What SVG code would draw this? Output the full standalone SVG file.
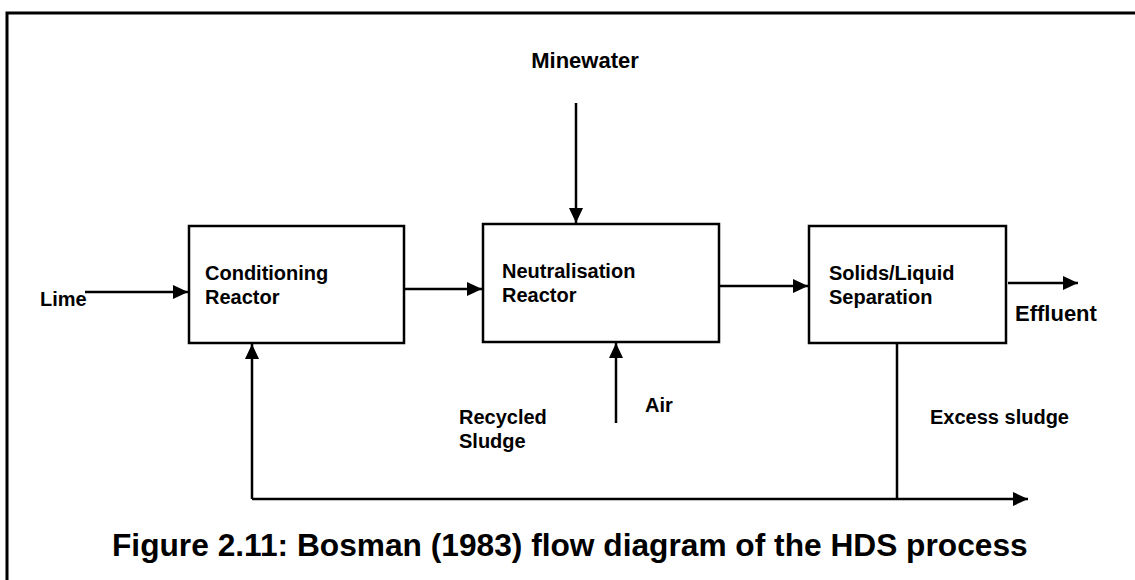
<svg xmlns="http://www.w3.org/2000/svg" width="1135" height="580" viewBox="0 0 1135 580">
  <style>
    .frame { fill: none; stroke: #000; stroke-width: 3; }
    .box rect { fill: #fff; stroke: #000; stroke-width: 2.5; }
    .lbl { font-family: "Liberation Sans", Arial, sans-serif; font-size: 20px; font-weight: bold; fill: #000; }
    .lbl-b { font-family: "Liberation Sans", Arial, sans-serif; font-size: 22px; font-weight: bold; fill: #000; }
    .cap { font-family: "Liberation Sans", Arial, sans-serif; font-size: 31.7px; font-weight: bold; fill: #000; }
    .conn path { fill: none; stroke: #000; stroke-width: 2.5; }
  </style>
  <defs>
    <marker id="arr" markerUnits="userSpaceOnUse" markerWidth="16" markerHeight="14" refX="15" refY="7" orient="auto">
      <path d="M0,0 L15,7 L0,14 z" fill="#000"/>
    </marker>
  </defs>
  <rect width="1135" height="580" fill="#fff"/>
  <path class="frame" d="M7,580 V13 H1135"/>

  <g id="conditioning-reactor" class="box">
    <rect x="189" y="226" width="215" height="117"/>
    <text class="lbl" x="205" y="280">Conditioning</text>
    <text class="lbl" x="205" y="304">Reactor</text>
  </g>
  <g id="neutralisation-reactor" class="box">
    <rect x="483" y="224" width="236" height="118"/>
    <text class="lbl" x="502" y="278">Neutralisation</text>
    <text class="lbl" x="502" y="302">Reactor</text>
  </g>
  <g id="separation" class="box">
    <rect x="809" y="226" width="197" height="117"/>
    <text class="lbl" x="829" y="280">Solids/Liquid</text>
    <text class="lbl" x="829" y="304">Separation</text>
  </g>

  <g id="labels">
    <text class="lbl-b" x="585" y="68" text-anchor="middle">Minewater</text>
    <text class="lbl" x="40" y="306">Lime</text>
    <text class="lbl-b" x="1015" y="321">Effluent</text>
    <text class="lbl" x="645" y="412">Air</text>
    <text class="lbl" x="459" y="424">Recycled</text>
    <text class="lbl" x="459" y="448">Sludge</text>
    <text class="lbl" x="930" y="424">Excess sludge</text>
  </g>

  <g id="connectors" class="conn">
    <path d="M576,103 V223" marker-end="url(#arr)"/>
    <path d="M85,292 H188" marker-end="url(#arr)"/>
    <path d="M404,289 H482" marker-end="url(#arr)"/>
    <path d="M719,286 H808" marker-end="url(#arr)"/>
    <path d="M1008,283 H1078" marker-end="url(#arr)"/>
    <path d="M616,423 V343" marker-end="url(#arr)"/>
    <path d="M897,343 V499"/>
    <path d="M252,499 H1028" marker-end="url(#arr)"/>
    <path d="M252,499 V344" marker-end="url(#arr)"/>
  </g>

  <text class="cap" x="112" y="556">Figure 2.11: Bosman (1983) flow diagram of the HDS process</text>
</svg>
